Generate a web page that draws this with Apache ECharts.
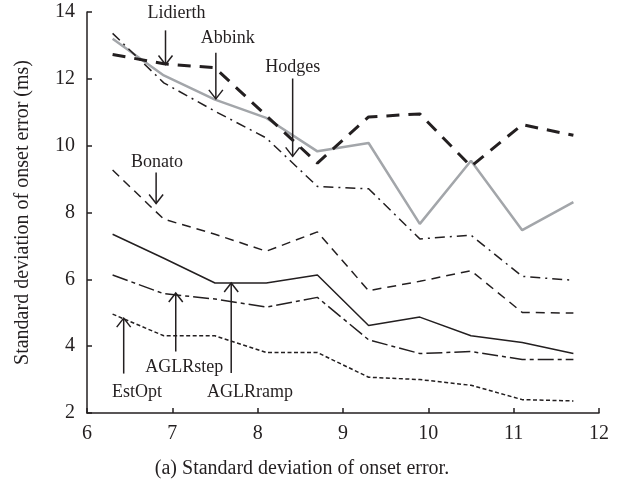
<!DOCTYPE html>
<html><head><meta charset="utf-8">
<script src="https://cdn.jsdelivr.net/npm/echarts@6/dist/echarts.min.js"></script>
<style>html,body{margin:0;padding:0;background:#fff}#c{width:624px;height:482px}</style>
</head><body><div id="c"></div>
<script>
var xValues = [6.3, 6.9, 7.5, 8.1, 8.7, 9.3, 9.9, 10.5, 11.1, 11.7];
var lidierth = [12.73, 12.45, 12.33, 10.9, 9.48, 10.86, 10.95, 9.38, 10.63, 10.31];
var abbink   = [13.36, 11.88, 11.03, 10.23, 8.78, 8.71, 7.21, 7.32, 6.09, 5.97];
var hodges   = [13.2, 12.1, 11.38, 10.83, 9.83, 10.08, 7.66, 9.55, 7.47, 8.31];
var bonato   = [9.27, 7.8, 7.35, 6.84, 7.42, 5.66, 5.94, 6.26, 5.01, 4.99];
var aglrRamp = [7.35, 6.63, 5.89, 5.89, 6.13, 4.62, 4.87, 4.31, 4.11, 3.78];
var aglrStep = [6.13, 5.57, 5.41, 5.17, 5.46, 4.19, 3.78, 3.84, 3.6, 3.6];
var estOpt   = [4.96, 4.31, 4.31, 3.81, 3.81, 3.07, 3.0, 2.83, 2.4, 2.36];
var yTicks = [2, 4, 6, 8, 10, 12, 14];
var xTicks = [6, 7, 8, 9, 10, 11, 12];

// annotations: label, arrow x, arrow tail y, arrow head y, text x, text y
var annLabels = ['Lidierth', 'Abbink', 'Hodges', 'Bonato', 'AGLRstep', 'AGLRramp', 'EstOpt'];
var annArrowX = [6.92, 7.51, 8.41, 6.81, 7.04, 7.69, 6.43];
var annTailY  = [13.45, 12.78, 12.01, 9.2, 3.84, 3.2, 3.18];
var annHeadY  = [12.43, 11.4, 9.68, 8.27, 5.59, 5.89, 4.84];
var annTextX  = [7.05, 7.65, 8.41, 6.82, 7.14, 7.91, 6.585];
var annTextY  = [13.95, 13.22, 12.36, 9.51, 3.37, 2.62, 2.62];

var FONT = 'Liberation Serif';
var INK = '#231f20';
function pairs(ys) { return xValues.map(function (x, i) { return [x, ys[i]]; }); }
function lineSeries(name, ys, style) {
  return { name: name, type: 'line', data: pairs(ys), symbol: 'none', silent: true,
           lineStyle: style, z: style.z || 2 };
}
var annData = annLabels.map(function (l, i) {
  return [annArrowX[i], annTailY[i], annHeadY[i], annTextX[i], annTextY[i], i];
});

var chart = echarts.init(document.getElementById('c'), null, { renderer: 'canvas' });
chart.setOption({
  animation: false,
  backgroundColor: '#fff',
  grid: { left: 87, right: 25, top: 12, bottom: 69, containLabel: false, outerBoundsMode: 'none' },
  xAxis: {
    type: 'value', min: 6, max: 12, interval: 1,
    axisLine: { lineStyle: { color: INK, width: 1.5 } },
    axisTick: { inside: true, length: 5, lineStyle: { color: INK, width: 1.5 } },
    splitLine: { show: false },
    axisLabel: { color: INK, fontFamily: FONT, fontSize: 20, margin: 11,
                 formatter: function (v) { return xTicks.indexOf(v) >= 0 ? String(v) : ''; } }
  },
  yAxis: {
    type: 'value', min: 2, max: 14, interval: 2,
    name: 'Standard deviation of onset error (ms)', nameLocation: 'middle', nameGap: 54,
    nameTextStyle: { color: INK, fontFamily: FONT, fontSize: 20 },
    axisLine: { show: true, lineStyle: { color: INK, width: 1.5 } },
    axisTick: { show: true, inside: true, length: 5, lineStyle: { color: INK, width: 1.5 } },
    splitLine: { show: false },
    axisLabel: { color: INK, fontFamily: FONT, fontSize: 20, margin: 12,
                 formatter: function (v) { return yTicks.indexOf(v) >= 0 ? String(v) : ''; } }
  },
  graphic: [{
    type: 'text', x: 302, y: 469,
    style: { text: '(a) Standard deviation of onset error.', fill: INK, font: '20px "Liberation Serif"',
             align: 'center', verticalAlign: 'middle' }
  }],
  series: [
    lineSeries('Hodges', hodges, { color: '#a3a6aa', width: 2.5, type: 'solid', z: 1 }),
    lineSeries('Lidierth', lidierth, { color: INK, width: 3, type: [13, 9] }),
    lineSeries('Abbink', abbink, { color: INK, width: 1.5, type: [10, 5, 2, 5] }),
    lineSeries('Bonato', bonato, { color: INK, width: 1.5, type: [9, 6] }),
    lineSeries('AGLRramp', aglrRamp, { color: INK, width: 1.5, type: 'solid' }),
    lineSeries('AGLRstep', aglrStep, { color: INK, width: 1.5, type: [16, 4, 4, 4] }),
    lineSeries('EstOpt', estOpt, { color: INK, width: 1.5, type: [4, 2.5] }),
    {
      type: 'custom', silent: true, clip: false, z: 5,
      data: annData,
      encode: { x: [0, 3], y: [1, 2, 4] },
      renderItem: function (params, api) {
        var a = api.coord([api.value(0), api.value(1)]);
        var b = api.coord([api.value(0), api.value(2)]);
        var t = api.coord([api.value(3), api.value(4)]);
        var dir = b[1] > a[1] ? 1 : -1;
        var idx = api.value(5);
        return {
          type: 'group',
          children: [
            { type: 'line', shape: { x1: a[0], y1: a[1], x2: b[0], y2: b[1] },
              style: { stroke: INK, lineWidth: 1.5 } },
            { type: 'polyline',
              shape: { points: [[b[0] - 7, b[1] - dir * 9], [b[0], b[1]], [b[0] + 7, b[1] - dir * 9]] },
              style: { stroke: INK, lineWidth: 1.5, fill: null } },
            { type: 'text', x: t[0], y: t[1],
              style: { text: annLabels[idx], fill: INK, font: '18px "Liberation Serif"',
                       align: 'center', verticalAlign: 'middle' } }
          ]
        };
      }
    }
  ]
});
</script></body></html>
